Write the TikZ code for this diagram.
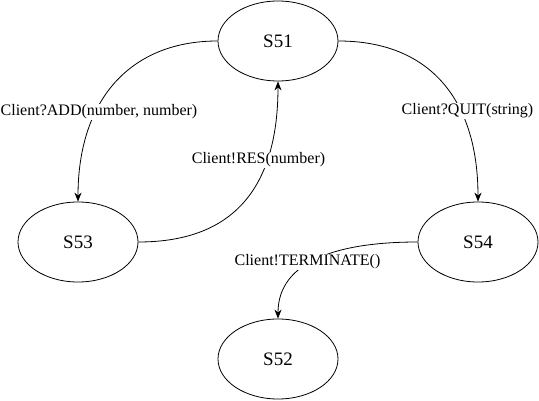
\documentclass[tikz,border=0pt]{standalone}
\usepackage{fontspec}
\setmainfont{Liberation Serif}
\usetikzlibrary{shapes.geometric,arrows.meta}
\begin{document}
\begin{tikzpicture}[x=1pt,y=-1pt,
  state/.style={draw,ellipse,minimum width=120pt,minimum height=80pt,inner sep=0pt,line width=0.8pt,font=\fontsize{19}{22}\selectfont},
  conn/.style={line width=0.8pt,-{Stealth[length=9pt,width=7pt]}},
  lbl/.style={fill=white,inner sep=1pt,font=\fontsize{16}{19}\selectfont}]
\useasboundingbox (0,0) rectangle (539,401);
\node[state] (s51) at (278,41) {S51};
\node[state] (s53) at (78,242) {S53};
\node[state] (s54) at (478,242) {S54};
\node[state] (s52) at (278,359) {S52};
\draw[conn] (s51.west) .. controls (130,41) and (78,100) .. (s53.north);
\draw[conn] (s53.east) .. controls (240,242) and (278,180) .. (s51.south);
\draw[conn] (s51.east) .. controls (430,41) and (478,100) .. (s54.north);
\draw[conn] (s54.west) .. controls (340,242) and (278,260) .. (s52.north);
\node[lbl] (l1) at (99,112) {Client?ADD(number, number)};
\node[lbl] (l2) at (258.5,160) {Client!RES(number)};
\node[lbl] (l3) at (467.5,111) {Client?QUIT(string)};
\node[lbl] (l4) at (307.5,262) {Client!TERMINATE()};
\end{tikzpicture}
\end{document}
